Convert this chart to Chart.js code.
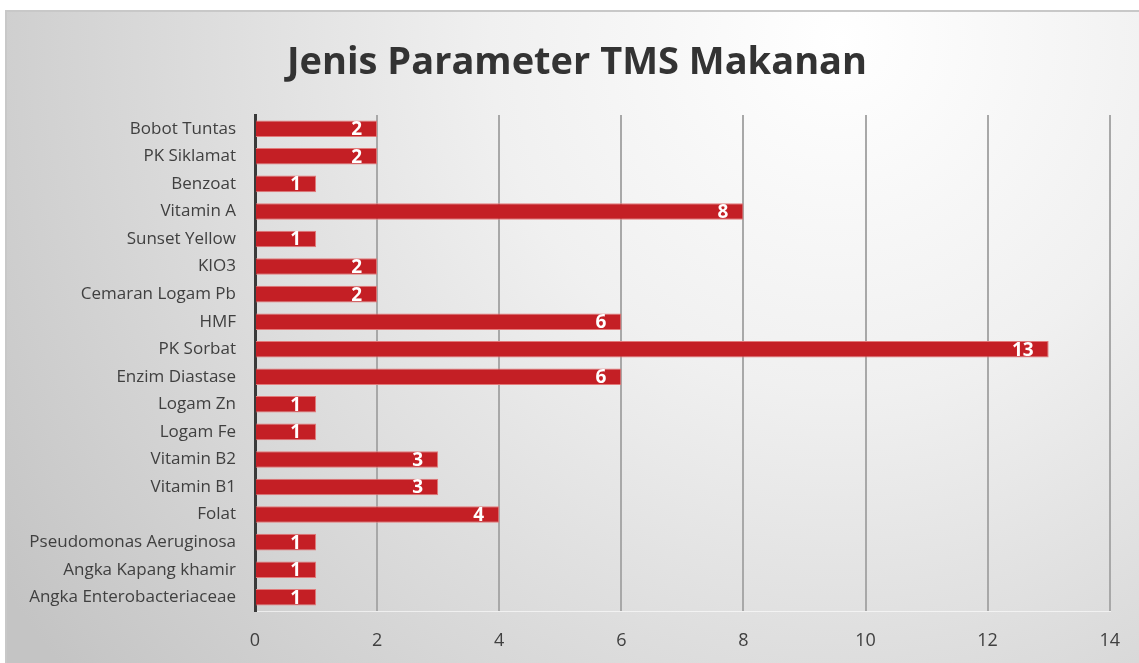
<!DOCTYPE html>
<html>
<head>
<meta charset="utf-8">
<script src="https://cdn.jsdelivr.net/npm/chart.js@4.4.1/dist/chart.umd.min.js"></script>
<style>
  html, body { margin: 0; padding: 0; background: #fff; }
  #wrap { position: relative; width: 1139px; height: 663px; }
</style>
</head>
<body>
<div id="wrap"><canvas id="chart" width="1139" height="663"></canvas></div>
<script>
(() => {
  "use strict";

  // Data
  const categories = [
    "Bobot Tuntas", "PK Siklamat", "Benzoat", "Vitamin A", "Sunset Yellow",
    "KIO3", "Cemaran Logam Pb", "HMF", "PK Sorbat", "Enzim Diastase",
    "Logam Zn", "Logam Fe", "Vitamin B2", "Vitamin B1", "Folat",
    "Pseudomonas Aeruginosa", "Angka Kapang khamir", "Angka Enterobacteriaceae"
  ];
  const counts = [2, 2, 1, 8, 1, 2, 2, 6, 13, 6, 1, 1, 3, 3, 4, 1, 1, 1];
  const xTicks = [0, 2, 4, 6, 8, 10, 12, 14];
  const chartTitle = "Jenis Parameter TMS Makanan";

  const FONT = "'Open Sans', 'DejaVu Sans', sans-serif";

  // Background box + title
  const backdrop = {
    id: "backdrop",
    beforeDraw(chart) {
      const { ctx } = chart;
      ctx.save();
      const g = ctx.createRadialGradient(840, 40, 0, 840, 40, 1000);
      g.addColorStop(0, "#ffffff");
      g.addColorStop(0.35, "#f0f0f0");
      g.addColorStop(1, "#c4c4c4");
      ctx.fillStyle = g;
      ctx.fillRect(6, 11, 1133, 652);
      ctx.strokeStyle = "#c8c8c8";
      ctx.lineWidth = 2;
      ctx.beginPath();
      ctx.moveTo(6, 663);
      ctx.lineTo(6, 11);
      ctx.lineTo(1139, 11);
      ctx.stroke();

      ctx.fillStyle = "#333333";
      ctx.font = "bold 38px " + FONT;
      ctx.textAlign = "center";
      ctx.textBaseline = "alphabetic";
      ctx.fillText(chartTitle, 577, 74);
      ctx.restore();
    }
  };

  // Value labels at the inner end of each bar
  const barLabels = {
    id: "barLabels",
    afterDatasetsDraw(chart) {
      const { ctx } = chart;
      const meta = chart.getDatasetMeta(0);
      ctx.save();
      ctx.fillStyle = "#ffffff";
      ctx.font = "bold 19px " + FONT;
      ctx.textAlign = "right";
      ctx.textBaseline = "middle";
      meta.data.forEach((bar, i) => {
        ctx.fillText(String(counts[i]), bar.x - 15, bar.y + 1);
      });
      ctx.restore();
    }
  };

  new Chart(document.getElementById("chart"), {
    type: "bar",
    data: {
      labels: categories,
      datasets: [{
        data: counts,
        backgroundColor: "#c41f25",
        borderColor: "#e27a7a",
        borderWidth: 1,
        borderSkipped: "left",
        barPercentage: 0.6,
        categoryPercentage: 1
      }]
    },
    options: {
      indexAxis: "y",
      responsive: false,
      animation: false,
      layout: { padding: { top: 115, right: 26, bottom: 0, left: 0 } },
      plugins: {
        legend: { display: false },
        title: { display: false },
        tooltip: { enabled: false }
      },
      scales: {
        x: {
          min: 0,
          max: 14,
          afterBuildTicks: (s) => { s.ticks = xTicks.map(v => ({ value: v })); },
          afterFit: (s) => { s.height = 52; },
          ticks: {
            padding: 19,
            color: "#404040",
            font: { family: FONT, size: 18 }
          },
          grid: {
            drawTicks: false,
            color: (c) => c.index === 0 ? "rgba(0,0,0,0)" : "#a8a8a8",
            lineWidth: 2
          },
          border: { color: "rgba(255,255,255,0.6)", width: 1 }
        },
        y: {
          afterFit: (s) => { s.width = 255; },
          ticks: {
            padding: 19,
            color: "#404040",
            font: { family: FONT, size: 17 }
          },
          grid: { display: false, drawTicks: false },
          border: { color: "#3a3a3a", width: 3 }
        }
      }
    },
    plugins: [backdrop, barLabels]
  });
})();
</script>
</body>
</html>
